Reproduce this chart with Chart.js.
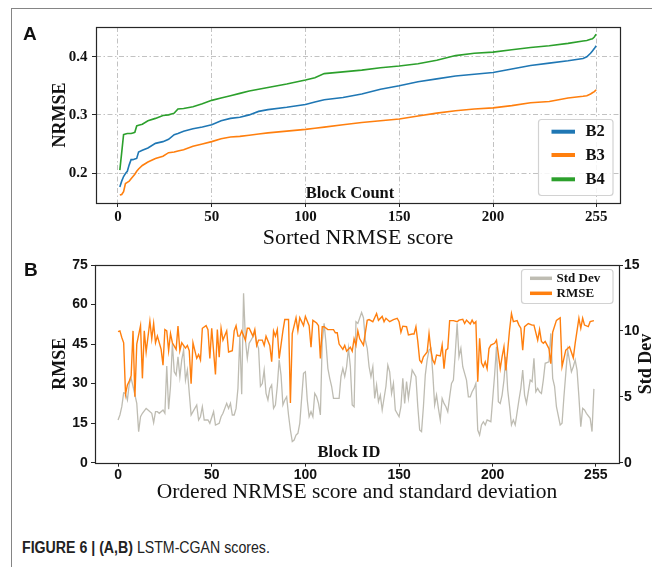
<!DOCTYPE html>
<html>
<head>
<meta charset="utf-8">
<script src="https://cdn.jsdelivr.net/npm/chart.js@4.4.1/dist/chart.umd.min.js"></script>
<style>
  html, body { margin: 0; padding: 0; background: #fff; }
  #wrap { position: relative; width: 652px; height: 567px; overflow: hidden; background: #fff; }
  #frame { position: absolute; left: 11px; top: 8px; width: 660px; height: 600px; border-top: 1.5px solid #858585; border-left: 1.5px solid #858585; }
  canvas { position: absolute; left: 0; }
  #cA { top: 0; }
  #cB { top: 250px; }
  .plabel { position: absolute; font-family: "Liberation Sans", Arial, sans-serif; font-weight: bold; font-size: 19px; color: #111; line-height: 19px; }
  #caption { position: absolute; left: 22px; top: 539px; font-family: "Liberation Sans", Arial, sans-serif; font-size: 16px; line-height: 18px; color: #222; white-space: nowrap; transform: scaleX(0.885); transform-origin: left center; }
</style>
</head>
<body>
<div id="wrap">
  <div id="frame"></div>
  <canvas id="cA" width="652" height="250"></canvas>
  <canvas id="cB" width="652" height="262"></canvas>
  <div class="plabel" style="left:23px; top:24px;">A</div>
  <div class="plabel" style="left:24px; top:260px;">B</div>
  <div id="caption"><b>FIGURE 6 | (A,B)</b> LSTM-CGAN scores.</div>
</div>
<script>
// ---------- Panel A data: sorted NRMSE per block ----------
const blocksA = [1,2,3,4,5,6,7,8,9,10,11,13,16,20,24,27,30,32,35,40,45,50,55,60,65,70,75,80,90,100,105,110,120,130,140,150,160,170,180,190,200,210,220,230,240,248,250,252,253,254,255];
const nrmseB2 = [0.176,0.186,0.194,0.199,0.203,0.214,0.223,0.223,0.224,0.225,0.236,0.239,0.243,0.251,0.254,0.258,0.266,0.268,0.272,0.276,0.279,0.283,0.290,0.294,0.296,0.300,0.306,0.309,0.313,0.318,0.322,0.326,0.330,0.336,0.344,0.350,0.357,0.362,0.367,0.370,0.373,0.379,0.385,0.389,0.393,0.397,0.400,0.406,0.410,0.414,0.419];
const nrmseB3 = [0.162,0.163,0.168,0.182,0.184,0.186,0.190,0.194,0.198,0.203,0.207,0.213,0.219,0.225,0.229,0.235,0.236,0.238,0.240,0.246,0.250,0.254,0.259,0.262,0.263,0.265,0.267,0.269,0.272,0.275,0.277,0.279,0.283,0.287,0.290,0.293,0.298,0.303,0.307,0.310,0.312,0.316,0.321,0.323,0.329,0.332,0.333,0.336,0.338,0.340,0.343];
const nrmseB4 = [0.205,0.235,0.266,0.267,0.268,0.268,0.268,0.269,0.270,0.281,0.282,0.284,0.290,0.294,0.299,0.300,0.303,0.310,0.311,0.314,0.319,0.325,0.329,0.333,0.337,0.341,0.344,0.347,0.353,0.360,0.364,0.371,0.374,0.377,0.381,0.384,0.388,0.394,0.402,0.406,0.408,0.412,0.416,0.419,0.423,0.427,0.428,0.430,0.431,0.434,0.439];
const seriesNamesA = ['B2','B3','B4'];
const xTicksA = [0,50,100,150,200,255];
const yTicksA = [0.2,0.3,0.4];

// ---------- Panel B data: RMSE and standard deviation per block ----------
const rmseIds = [0,1,2,3,4,5,6,7,8,9,10,12,13,14,15,17,18,19,20,21,23,24,25,26,27,28,29,31,32,33,34,36,37,38,39,40,42,43,44,45,47,48,49,50,52,53,54,55,56,58,59,61,62,63,64,65,66,68,69,70,72,73,74,75,77,78,79,81,82,83,84,85,86,88,89,91,92,93,95,96,97,99,100,102,103,104,106,107,108,109,110,112,113,115,116,117,118,120,121,122,124,125,126,127,128,129,131,133,134,136,138,139,141,142,143,145,147,149,150,151,152,154,155,157,158,159,160,161,162,163,165,166,167,168,169,170,172,173,174,175,176,177,179,181,182,184,185,186,188,189,190,191,192,193,194,195,196,197,198,199,201,202,204,205,206,207,209,210,211,213,214,215,216,217,219,221,222,224,225,226,227,228,230,231,232,234,236,237,239,240,241,243,244,246,247,248,249,251,252,254];
const rmseValues = [49.7,50,47.5,45.5,26,29.5,31,33,50,25,45,52,32,50,42,53.7,47,52.8,45.5,48,43,37,50.5,50,42.5,49,45.5,43,51.8,42.5,45.5,43.5,44.5,42.5,30,45.5,39.6,41,39,51,52,50.5,39.5,51,33.5,50.5,40,51,46.5,50,42,42.5,50,52,48,48,50,46.5,51,51,48,50.5,44.5,46.5,46.5,44.5,48,44.5,38.3,50,48,50.5,39.5,50,54.3,54.3,22.7,49,55,50,55,52,55.5,52,43.8,54,53,52,39.5,51.6,51.6,50.5,50.5,50.5,49.3,49.3,45,43,44.5,42.3,43.8,42.3,47,44.5,50,47,44.6,54,54.3,53.5,56.6,54,55.5,53.5,54.8,53.5,54.3,54.8,53.5,49.5,51.8,51.6,48.5,48.8,48.8,51.6,46,38.9,37.9,40.2,42,49,42.7,38.9,37.6,40.8,40.5,44.6,35.7,42.7,43.3,53.9,53.9,53.5,54.1,54.4,52.8,54.1,52.6,54.1,52.8,53.5,30.7,47.2,37.9,36.4,38.3,35.7,43.3,44.6,45.3,46.5,35.7,40.2,44,35,50.5,56.6,53.5,53.9,52.2,51,42.7,51.6,52.8,52.2,52.2,46.5,50.5,46,45.3,46,43.3,37.6,49.5,54,55,36.4,42.7,43.3,44,39.8,45.3,54.8,51,54.8,52.2,51.6,53.5,53.9];
const stdIds = [0,1,2,3,4,5,6,7,8,10,11,12,13,15,16,18,19,20,21,22,24,25,26,27,28,29,30,31,32,33,34,35,36,37,39,40,42,43,44,45,46,48,49,51,52,54,55,56,58,59,60,61,62,63,64,65,66,67,68,69,70,71,72,73,74,75,76,77,78,79,80,81,82,83,84,85,86,87,88,89,90,91,92,93,94,95,96,97,98,99,100,101,102,103,104,105,106,107,108,109,110,111,112,113,114,115,117,118,119,120,121,122,123,124,125,126,127,128,130,131,132,133,134,135,136,137,138,139,140,141,143,144,145,146,147,148,150,151,152,153,154,155,157,158,159,160,161,162,163,164,165,166,167,168,169,170,171,172,173,174,175,176,177,178,179,180,181,182,183,184,185,186,187,188,189,190,191,192,193,194,195,196,197,199,200,201,202,203,204,205,206,207,208,209,210,211,212,214,215,216,217,218,220,221,222,223,224,225,226,227,228,230,231,232,233,234,236,237,238,239,240,242,243,244,245,246,247,248,249,250,252,253,254];
const stdValues = [3.24,3.62,4.25,5.3,5.26,4.76,6.0,6.4,5.8,4.5,2.36,3.49,3.75,4.12,4.0,3.75,3.04,3.87,3.87,3.75,4.0,3.75,7.34,4.05,5.8,9.06,6.9,6.65,8.04,6.5,7.8,8.55,6.27,7.03,3.62,3.87,4.38,3.24,3.49,4.25,3.24,3.24,2.99,3.87,2.86,2.99,3.49,3.75,4.5,4.12,4.5,3.62,3.62,4.12,5.64,9.56,5.2,12.85,9.3,7.92,9.06,9.3,9.56,9.94,9.06,8.68,5.8,6.0,7.03,5.26,4.76,5.64,5.9,4.12,4.38,5.8,7.8,6.65,4.38,4.76,5.0,3.62,2.48,1.6,1.72,2.1,2.23,2.99,4.88,6.78,6.9,4.76,3.49,3.87,3.49,5.26,5.0,4.5,3.62,9.19,10.57,9.06,7.16,6.4,5.8,4.88,4.88,4.88,6.53,7.16,6.53,7.28,8.68,7.28,4.38,4.25,10.7,10.57,11.4,11.0,9.3,8.68,7.28,6.53,7.28,4.88,5.9,4.63,5.13,4.0,5.8,7.41,6.9,5.26,6.02,4.0,3.49,4.25,6.4,4.5,6.15,4.88,7.03,6.78,6.53,4.25,2.48,2.36,4.25,6.65,7.8,8.55,8.68,6.78,4.38,5.13,4.12,3.24,4.88,4.5,4.25,3.87,5.0,6.02,6.27,8.3,10.57,8.04,8.68,7.28,6.78,6.27,5.0,5.0,5.38,5.64,6.02,2.48,2.1,2.86,3.11,2.86,3.24,3.11,4.88,6.65,8.8,4.63,4.5,5.13,6.27,8.04,5.51,4.25,2.86,3.24,2.86,4.76,5.64,7.03,5.13,4.5,6.27,6.15,7.92,5.38,5.64,5.38,5.26,6.27,7.54,7.66,9.81,6.4,5.8,4.25,2.86,2.99,5.0,6.78,8.55,6.9,7.28,7.8,7.03,5.0,2.73,4.12,4.0,3.75,3.37,2.36,5.6];
const seriesNamesB = ['Std Dev','RMSE'];
const xTicksB = [0,50,100,150,200,255];
const yTicksRmse = [0,15,30,45,60,75];
const yTicksStd = [0,5,10,15];

// ---------- styling ----------
const SERIF = "'Liberation Serif', 'Times New Roman', serif";
const SANS = "'Liberation Sans', Arial, sans-serif";
const colA = {B2:'#1f77b4', B3:'#ff7f0e', B4:'#2ca02c'};
const colStd = '#bebcb2';
const colRmse = '#ff7f0e';

function pts(xs, ys){ return xs.map((x,i)=>({x:x, y:ys[i]})); }
function fixTicks(list){ return s => { s.ticks = list.map(v=>({value:v})); }; }

const framePlugin = {
  id:'frame',
  afterDraw(chart){
    const {ctx, chartArea:{left,top,right,bottom}} = chart;
    ctx.save();
    ctx.strokeStyle = '#262626';
    ctx.lineWidth = 1.2;
    ctx.strokeRect(Math.round(left)+0.5, Math.round(top)+0.5, Math.round(right)-Math.round(left), Math.round(bottom)-Math.round(top));
    ctx.restore();
  }
};

function drawLegend(ctx, box, items, lineX0, lineX1, textX, font, lw){
  ctx.save();
  ctx.beginPath();
  ctx.roundRect(box.x, box.y, box.w, box.h, 3);
  ctx.fillStyle = 'rgba(255,255,255,0.85)';
  ctx.fill();
  ctx.strokeStyle = '#d2d2d2';
  ctx.lineWidth = 1.2;
  ctx.stroke();
  items.forEach(it => {
    ctx.beginPath();
    ctx.strokeStyle = it.color;
    ctx.lineWidth = lw;
    ctx.moveTo(lineX0, it.y); ctx.lineTo(lineX1, it.y);
    ctx.stroke();
    ctx.fillStyle = '#111';
    ctx.font = font;
    ctx.textBaseline = 'middle';
    ctx.textAlign = 'left';
    ctx.fillText(it.label, textX, it.y + 0.5);
  });
  ctx.restore();
}

const annotA = {
  id:'annotA',
  afterDatasetsDraw(chart){
    const ctx = chart.ctx;
    ctx.save();
    ctx.font = "bold 16.5px " + SERIF;
    ctx.fillStyle = '#111';
    ctx.textAlign = 'center';
    ctx.textBaseline = 'middle';
    ctx.fillText('Block Count', 350, 194);
    ctx.restore();
    drawLegend(ctx, {x:538.5, y:119.5, w:74.5, h:76}, [
      {label:seriesNamesA[0], color:colA.B2, y:131.7},
      {label:seriesNamesA[1], color:colA.B3, y:155},
      {label:seriesNamesA[2], color:colA.B4, y:179.3}
    ], 551.5, 575, 585.5, "bold 16.5px " + SERIF, 4);
  }
};

const annotB = {
  id:'annotB',
  afterDatasetsDraw(chart){
    const ctx = chart.ctx;
    ctx.save();
    ctx.font = "bold 16.5px " + SERIF;
    ctx.fillStyle = '#111';
    ctx.textAlign = 'center';
    ctx.textBaseline = 'middle';
    ctx.fillText('Block ID', 349, 202.5);
    ctx.restore();
    drawLegend(ctx, {x:521.5, y:19.5, w:91.5, h:34}, [
      {label:seriesNamesB[0], color:colStd, y:28.3},
      {label:seriesNamesB[1], color:colRmse, y:43.3}
    ], 530, 552, 556.5, "bold 13px " + SERIF, 3.5);
    // right axis title (reads bottom-to-top)
    ctx.save();
    ctx.translate(646, 114);
    ctx.rotate(-Math.PI/2);
    ctx.font = "bold 18px " + SERIF;
    ctx.fillStyle = '#111';
    ctx.textAlign = 'center';
    ctx.textBaseline = 'middle';
    ctx.fillText('Std Dev', 0, 0);
    ctx.restore();
  }
};

// ---------- Chart A ----------
new Chart(document.getElementById('cA'), {
  type:'line',
  data:{ datasets:[
    {label:seriesNamesA[0], data:pts(blocksA, nrmseB2), borderColor:colA.B2, borderWidth:1.6, pointRadius:0, tension:0},
    {label:seriesNamesA[1], data:pts(blocksA, nrmseB3), borderColor:colA.B3, borderWidth:1.6, pointRadius:0, tension:0},
    {label:seriesNamesA[2], data:pts(blocksA, nrmseB4), borderColor:colA.B4, borderWidth:1.6, pointRadius:0, tension:0}
  ]},
  options:{
    responsive:false, animation:false, devicePixelRatio:1,
    layout:{padding:{top:27, right:32, bottom:0, left:0}},
    plugins:{legend:{display:false}, tooltip:{enabled:false}},
    scales:{
      x:{ type:'linear', min:-11.7, max:267.7,
        afterBuildTicks: fixTicks(xTicksA),
        afterFit: s => { s.height = 47; },
        grid:{color:'#c2c2c2', lineWidth:1, tickLength:4, tickColor:'#262626', tickWidth:1},
        border:{display:false, dash:[5,2.5,1.5,2.5]},
        ticks:{font:{family:SERIF, weight:'bold', size:15}, color:'#111', padding:1, maxRotation:0, autoSkip:false, callback: v => String(v)},
        title:{display:true, text:'Sorted NRMSE score', font:{family:SERIF, size:22, lineHeight:1}, color:'#111', padding:{top:0, bottom:1}}
      },
      y:{ type:'linear', min:0.1484, max:0.4512,
        afterBuildTicks: fixTicks(yTicksA),
        afterFit: s => { s.width = 96; },
        grid:{color:'#c2c2c2', lineWidth:1, tickLength:4, tickColor:'#262626', tickWidth:1},
        border:{display:false, dash:[5,2.5,1.5,2.5]},
        ticks:{font:{family:SERIF, weight:'bold', size:15}, color:'#111', padding:4.5, callback: v => v.toFixed(1)},
        title:{display:true, text:'NRMSE', font:{family:SERIF, weight:'bold', size:18, lineHeight:1}, color:'#111', padding:{top:51, bottom:0}}
      }
    }
  },
  plugins:[framePlugin, annotA]
});

// ---------- Chart B ----------
new Chart(document.getElementById('cB'), {
  type:'line',
  data:{ datasets:[
    {label:seriesNamesB[1], data:pts(rmseIds, rmseValues), yAxisID:'y', borderColor:colRmse, borderWidth:1.4, pointRadius:0, tension:0, order:0},
    {label:seriesNamesB[0], data:pts(stdIds, stdValues), yAxisID:'y2', borderColor:colStd, borderWidth:1.3, pointRadius:0, tension:0, order:1}
  ]},
  options:{
    responsive:false, animation:false, devicePixelRatio:1,
    layout:{padding:{top:15, right:0, bottom:0, left:0}},
    plugins:{legend:{display:false}, tooltip:{enabled:false}},
    scales:{
      x:{ type:'linear', min:-12.3, max:267.4,
        afterBuildTicks: fixTicks(xTicksB),
        afterFit: s => { s.height = 49.3; },
        grid:{drawOnChartArea:false, tickLength:4, tickColor:'#262626', tickWidth:1},
        border:{display:false},
        ticks:{font:{family:SANS, weight:'bold', size:14}, color:'#111', padding:0, maxRotation:0, autoSkip:false, callback: v => String(v)},
        title:{display:true, text:'Ordered NRMSE score and standard deviation', font:{family:SERIF, size:21.5, lineHeight:1}, color:'#111', padding:{top:0, bottom:9}}
      },
      y:{ type:'linear', position:'left', min:0, max:75,
        afterBuildTicks: fixTicks(yTicksRmse),
        afterFit: s => { s.width = 95; },
        grid:{drawOnChartArea:false, tickLength:4, tickColor:'#262626', tickWidth:1},
        border:{display:false},
        ticks:{font:{family:SANS, weight:'bold', size:14}, color:'#111', padding:3.3, callback: v => String(v)},
        title:{display:true, text:'RMSE', font:{family:SERIF, weight:'bold', size:18, lineHeight:1}, color:'#111', padding:{top:51, bottom:0}}
      },
      y2:{ type:'linear', position:'right', min:0, max:15,
        afterBuildTicks: fixTicks(yTicksStd),
        afterFit: s => { s.width = 33; },
        grid:{drawOnChartArea:false, tickLength:4, tickColor:'#262626', tickWidth:1},
        border:{display:false},
        ticks:{font:{family:SANS, weight:'bold', size:14}, color:'#111', padding:1, callback: v => String(v)},
        title:{display:false}
      }
    }
  },
  plugins:[framePlugin, annotB]
});
</script>
</body>
</html>
